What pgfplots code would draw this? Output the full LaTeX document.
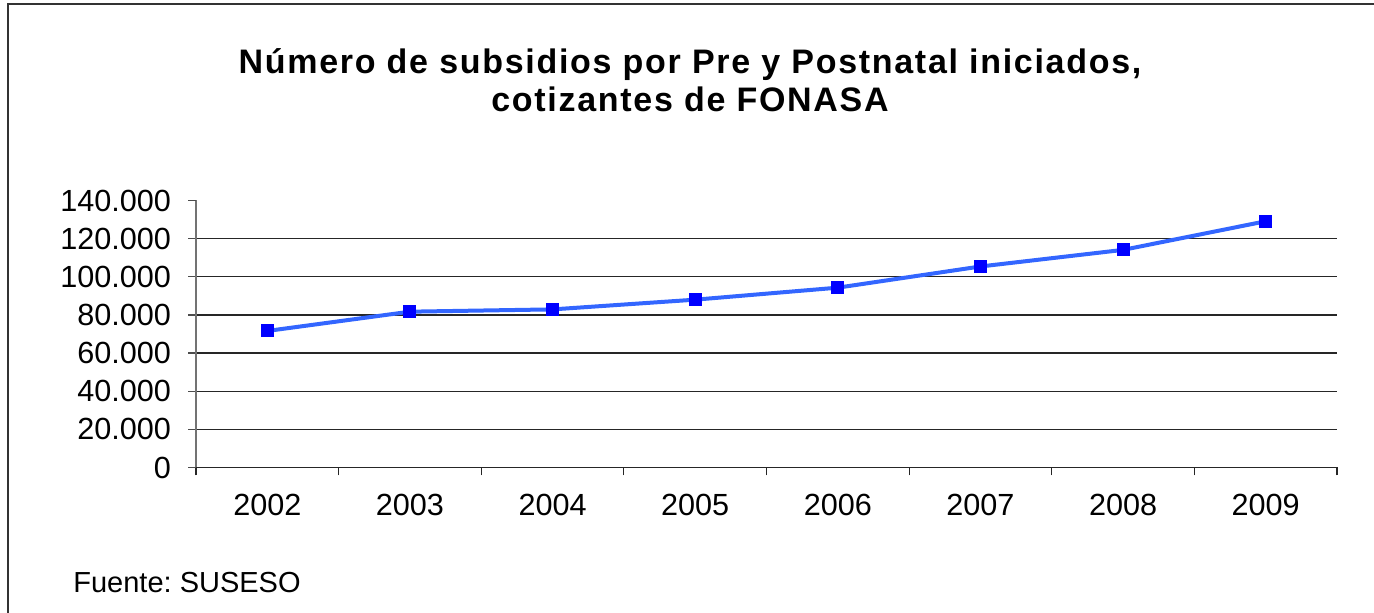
\documentclass[border=0pt]{standalone}
\usepackage{pgfplots}
\pgfplotsset{compat=1.18}
\usepackage{fontspec}
\setmainfont{Liberation Sans}
\frenchspacing
\definecolor{linecol}{RGB}{51,102,255}
\definecolor{markcol}{RGB}{0,0,255}
\begin{document}
\begin{tikzpicture}[x=1pt,y=1pt]
% page = 1374x613 px at 0.5pt per px
\useasboundingbox (0pt,0pt) rectangle (687pt,-306.5pt);
\draw[line width=1pt, black!80] (4pt,-2pt) rectangle (720pt,-340pt);
\node[font=\fontsize{17}{19}\selectfont\bfseries\addfontfeatures{LetterSpace=5}, align=center] at (345pt,-40pt)
  {Número de subsidios por Pre y Postnatal iniciados,\\cotizantes de FONASA};
\node[font=\fontsize{14.5}{16}\selectfont, anchor=west, inner sep=0pt] at (36.5pt,-291.5pt) {Fuente: SUSESO};
\begin{axis}[
    at={(98pt,-233.75pt)}, anchor=south west,
    scale only axis,
    width=570.5pt, height=133.5pt,
    xmin=-0.5, xmax=7.5,
    ymin=0, ymax=140000,
    axis lines*=left,
    x axis line style={black!85, line width=0.6pt},
    y axis line style={black!55, line width=0.6pt},
    xtick={0,...,7},
    xticklabels={2002,2003,2004,2005,2006,2007,2008,2009},
    major x tick style={draw=none},
    minor xtick={-0.5,0.5,...,7.5},
    minor x tick style={black!85, line width=0.6pt},
    minor tick length=4pt,
    ytick={0,20000,40000,60000,80000,100000,120000},
    yticklabels={0,20.000,40.000,60.000,80.000,100.000,120.000},
    extra y ticks={140000},
    extra y tick labels={140.000},
    extra y tick style={grid=none},
    major y tick style={black!70, line width=0.6pt},
    major tick length=4pt,
    tick align=outside,
    ymajorgrids,
    grid style={black!85, line width=0.6pt},
    scaled y ticks=false,
    tick label style={font=\fontsize{15.3}{17}\selectfont},
    xticklabel style={yshift=-6pt},
    yticklabel style={xshift=-5pt},
]
\addplot[color=linecol, line width=2pt, mark=square*, mark size=3pt,
  mark options={fill=markcol, draw=markcol, line width=0pt}] coordinates {
  (0,71600) (1,81700) (2,82900) (3,88000)
  (4,94300) (5,105400) (6,114100) (7,129100)
};
\end{axis}
\end{tikzpicture}
\end{document}
